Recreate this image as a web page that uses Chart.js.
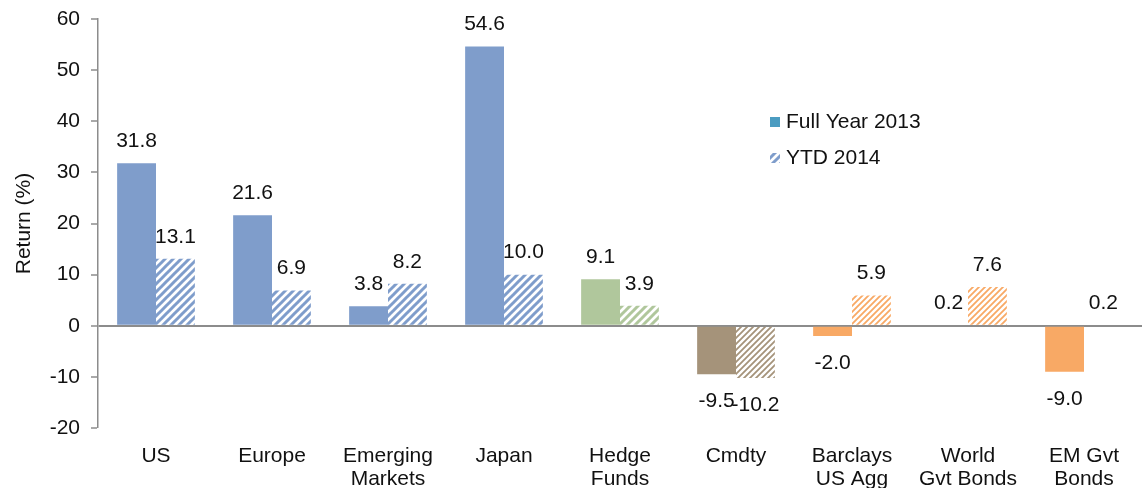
<!DOCTYPE html>
<html>
<head>
    <title>Returns 2013 vs YTD 2014</title>
    <script src="https://cdn.jsdelivr.net/npm/chart.js"></script>
    <style>
        html, body { margin: 0; padding: 0; background: #fff; }
        #wrap { width: 1146px; height: 488px; }
    </style>
</head>
<body>
    <div id="wrap">
        <canvas id="returnsChart" width="1146" height="488"></canvas>
    </div>

    <script>
        const categories = [['US'], ['Europe'], ['Emerging', 'Markets'], ['Japan'], ['Hedge', 'Funds'],
                            ['Cmdty'], ['Barclays', 'US Agg'], ['World', 'Gvt Bonds'], ['EM Gvt', 'Bonds']];
        const fullYear2013 = [31.8, 21.6, 3.8, 54.6, 9.1, -9.5, -2.0, 0.2, -9.0];
        const ytd2014 = [13.1, 6.9, 8.2, 10.0, 3.9, -10.2, 5.9, 7.6, 0.2];
        const seriesNames = ['Full Year 2013', 'YTD 2014'];
        const yTicks = [-20, -10, 0, 10, 20, 30, 40, 50, 60];

        const BLUE = '#7f9dcb', GREEN = '#b0c79c', BROWN = '#a5937a', ORANGE = '#f8a965';
        const barColors = [BLUE, BLUE, BLUE, BLUE, GREEN, BROWN, ORANGE, ORANGE, ORANGE];
        const FONT = "'Liberation Sans', Arial, sans-serif";

        // diagonal "/" stripes, thicker for blue/green like the original
        function hatch(color) {
            const thick = (color === BLUE || color === GREEN);
            const size = thick ? 8 : 6;
            const c = document.createElement('canvas');
            c.width = size; c.height = size;
            const x = c.getContext('2d');
            x.strokeStyle = color;
            x.lineWidth = thick ? 3 : 1.8;
            x.beginPath();
            x.moveTo(-1, size + 1); x.lineTo(size + 1, -1);
            x.moveTo(-1, 1); x.lineTo(1, -1);
            x.moveTo(size - 1, size + 1); x.lineTo(size + 1, size - 1);
            x.stroke();
            return x.createPattern(c, 'repeat');
        }

        const valueLabels = {
            id: 'valueLabels',
            afterDatasetsDraw(chart) {
                const ctx = chart.ctx;
                ctx.save();
                ctx.font = '21px ' + FONT;
                ctx.fillStyle = '#111';
                ctx.textAlign = 'center';
                ctx.textBaseline = 'middle';
                chart.data.datasets.forEach((ds, i) => {
                    chart.getDatasetMeta(i).data.forEach((bar, j) => {
                        const v = ds.data[j];
                        const y = v >= 0 ? bar.y - 22 : bar.y + 27;
                        ctx.fillText(v.toFixed(1), bar.x, y);
                    });
                });
                ctx.restore();
            }
        };

        const legendBox = {
            id: 'legendBox',
            afterDraw(chart) {
                const ctx = chart.ctx;
                ctx.save();
                ctx.font = '21px ' + FONT;
                ctx.textBaseline = 'middle';
                ctx.fillStyle = '#4b9cc1';
                ctx.fillRect(770, 117, 10, 10);
                ctx.fillStyle = hatch(BLUE);
                ctx.fillRect(770, 153, 10, 10);
                ctx.fillStyle = '#111';
                ctx.fillText(seriesNames[0], 786, 122);
                ctx.fillText(seriesNames[1], 786, 158);
                ctx.restore();
            }
        };

        new Chart(document.getElementById('returnsChart'), {
            type: 'bar',
            data: {
                labels: categories,
                datasets: [{
                    label: seriesNames[0],
                    data: fullYear2013,
                    backgroundColor: barColors
                }, {
                    label: seriesNames[1],
                    data: ytd2014,
                    backgroundColor: barColors.map(hatch)
                }]
            },
            options: {
                responsive: false,
                animation: false,
                categoryPercentage: 0.67,
                barPercentage: 1.0,
                layout: { padding: { top: 19, right: 4, left: 12, bottom: 0 } },
                plugins: {
                    legend: { display: false },
                    tooltip: { enabled: false }
                },
                scales: {
                    x: {
                        afterFit: axis => { axis.height = 60; },
                        grid: { display: false, drawTicks: false },
                        border: { display: false },
                        ticks: {
                            color: '#111',
                            padding: 17,
                            maxRotation: 0,
                            autoSkip: false,
                            font: { family: FONT, size: 21, lineHeight: 1.1 }
                        }
                    },
                    y: {
                        min: -20,
                        max: 60,
                        afterBuildTicks: axis => { axis.ticks = yTicks.map(v => ({ value: v })); },
                        afterFit: axis => {
                            axis.width = 86;
                            axis.paddingTop = 0;
                            axis.paddingBottom = 0;
                        },
                        grid: {
                            drawOnChartArea: true,
                            color: c => c.tick && c.tick.value === 0 ? '#8c8c8c' : 'rgba(0,0,0,0)',
                            lineWidth: c => c.tick && c.tick.value === 0 ? 2 : 0,
                            tickColor: '#8c8c8c',
                            tickLength: 7,
                            tickWidth: 1.5
                        },
                        border: { color: '#8c8c8c', width: 1.5 },
                        ticks: {
                            color: '#111',
                            padding: 11,
                            font: { family: FONT, size: 21 }
                        },
                        title: {
                            display: true,
                            text: 'Return (%)',
                            color: '#111',
                            padding: { top: 0, bottom: 0 },
                            font: { family: FONT, size: 21 }
                        }
                    }
                }
            },
            plugins: [valueLabels, legendBox]
        });
    </script>
</body>
</html>
